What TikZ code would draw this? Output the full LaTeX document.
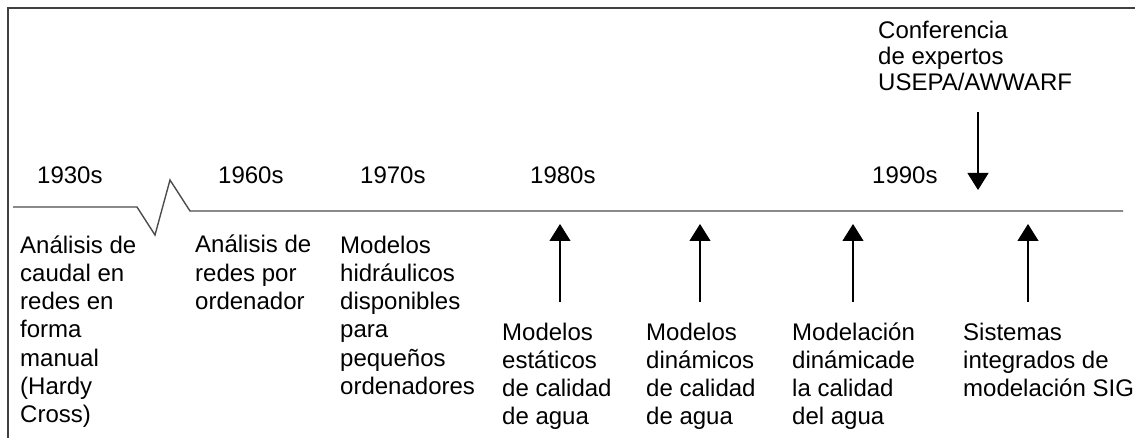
\documentclass[tikz,border=0pt]{standalone}
\usepackage{fontspec}
\setmainfont{Liberation Sans}
\usetikzlibrary{arrows.meta}
% multi-line nodes are anchored at the baseline of their LAST line
\tikzset{
  txt/.style={anchor=base west, inner sep=0pt, align=left, font=\fontsize{24}{28.3}\selectfont},
  toptxt/.style={anchor=base west, inner sep=0pt, align=left, font=\fontsize{24}{26}\selectfont},
  yr/.style={anchor=base west, inner sep=0pt, font=\fontsize{24}{28.3}\selectfont},
  evarrow/.style={line width=1.2pt, -{Triangle[width=21pt,length=17pt]}},
  frameline/.style={line width=2pt, draw=black!75},
  tline/.style={line width=1.4pt, draw=black!70}
}
\begin{document}
\begin{tikzpicture}[x=1pt,y=-1pt]
\useasboundingbox (0,0) rectangle (1135,438);
\fill[white] (0,0) rectangle (1135,438);
% frame
\draw[frameline] (8,438) -- (8,8) -- (1135,8);
% timeline
\draw[tline] (13,207) -- (137,207) -- (155,235) -- (170,180) -- (190,211) -- (1123,211);
% years
\node[yr] (y1930) at (37,184) {1930s};
\node[yr] (y1960) at (218,184) {1960s};
\node[yr] (y1970) at (360,184) {1970s};
\node[yr] (y1980) at (530,184) {1980s};
\node[yr] (y1990) at (872,184) {1990s};
% conference
\node[toptxt] (conf) at (878,91) {Conferencia\\de expertos\\USEPA/AWWARF};
% lower texts
\node[txt] (t1) at (20,422.8) {Análisis de\\caudal en\\redes en\\forma\\manual\\(Hardy\\Cross)};
\node[txt] (t2) at (195,309.6) {Análisis de\\redes por\\ordenador};
\node[txt] (t3) at (340,394.5) {Modelos\\hidráulicos\\disponibles\\para\\pequeños\\ordenadores};
\node[txt] (t4) at (502,424.9) {Modelos\\estáticos\\de calidad\\de agua};
\node[txt] (t5) at (646,424.9) {Modelos\\dinámicos\\de calidad\\de agua};
\node[txt] (t6) at (792,424.9) {Modelación\\dinámicade\\la calidad\\del agua};
\node[txt] (t7) at (963,396.6) {Sistemas\\integrados de\\modelación SIG};
% arrow ends
\coordinate (cA) at (978,112);
\coordinate (cAt) at (978,190);
\coordinate (a1b) at (560,302); \coordinate (a1t) at (560,224);
\coordinate (a2b) at (700,302); \coordinate (a2t) at (700,224);
\coordinate (a3b) at (853,302); \coordinate (a3t) at (853,224);
\coordinate (a4b) at (1028,302); \coordinate (a4t) at (1028,224);
\draw[evarrow] (cA) -- (cAt);
\draw[evarrow] (a1b) -- (a1t);
\draw[evarrow] (a2b) -- (a2t);
\draw[evarrow] (a3b) -- (a3t);
\draw[evarrow] (a4b) -- (a4t);
\end{tikzpicture}
\end{document}
